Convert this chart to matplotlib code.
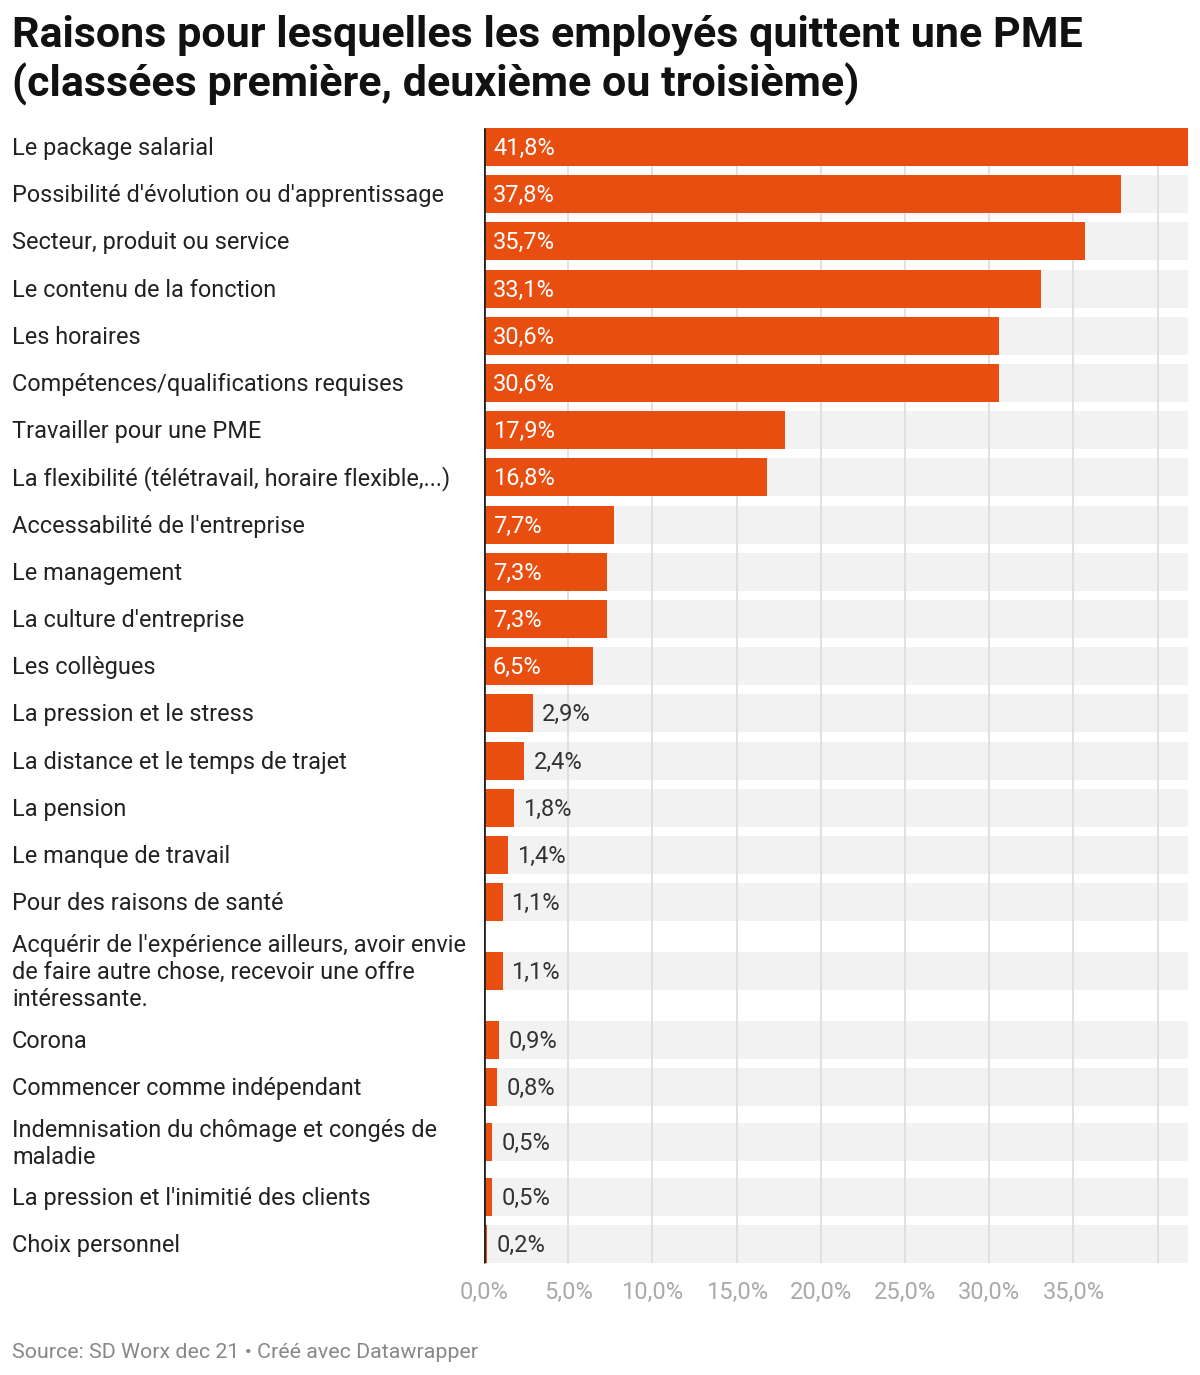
import matplotlib
matplotlib.use('Agg')
import matplotlib.pyplot as plt
import numpy as np

plt.rcParams['font.family'] = ['Roboto', 'DejaVu Sans']

# données
labels = [
    "Le package salarial",
    "Possibilité d'évolution ou d'apprentissage",
    "Secteur, produit ou service",
    "Le contenu de la fonction",
    "Les horaires",
    "Compétences/qualifications requises",
    "Travailler pour une PME",
    "La flexibilité (télétravail, horaire flexible,...)",
    "Accessabilité de l'entreprise",
    "Le management",
    "La culture d'entreprise",
    "Les collègues",
    "La pression et le stress",
    "La distance et le temps de trajet",
    "La pension",
    "Le manque de travail",
    "Pour des raisons de santé",
    "Acquérir de l'expérience ailleurs, avoir envie\nde faire autre chose, recevoir une offre\nintéressante.",
    "Corona",
    "Commencer comme indépendant",
    "Indemnisation du chômage et congés de\nmaladie",
    "La pression et l'inimitié des clients",
    "Choix personnel",
]
values = [41.8, 37.8, 35.7, 33.1, 30.6, 30.6, 17.9, 16.8, 7.7, 7.3, 7.3, 6.5,
          2.9, 2.4, 1.8, 1.4, 1.1, 1.1, 0.9, 0.8, 0.5, 0.5, 0.2]
ticks = [0, 5, 10, 15, 20, 25, 30, 35]

orange = '#e84e10'
W, H = 1200, 1375

fig = plt.figure(figsize=(W / 100, H / 100), dpi=100)

# hauteur de chaque ligne (en px) selon le nombre de lignes du libellé
row_h = {1: 47.2, 2: 62.4, 3: 90.8}
heights = np.array([row_h[l.count('\n') + 1] for l in labels])
centers = np.cumsum(heights) - heights / 2
total = heights.sum()
bar_h = 38

top_px = 123.4
ax = fig.add_axes([484 / W, 1 - (top_px + total) / H, (1188 - 484) / W, total / H])
ax.set_xlim(0, max(values))
ax.set_ylim(total, 0)
ax.axis('off')

# fond gris
ax.barh(centers, [max(values)] * len(values), height=bar_h, color='#f2f2f2', zorder=1)
# grille
y0 = centers[0] - bar_h / 2
y1 = centers[-1] + bar_h / 2
ax.vlines(np.arange(5, 45, 5), y0, y1, color='#dcdcdc', lw=1.2, zorder=2)
# barres
ax.barh(centers, values, height=bar_h, color=orange, zorder=3)
ax.plot([0, 0], [y0, y1], color='#222222', lw=2, zorder=4, solid_capstyle='butt')

px = max(values) / (1188 - 484)  # unités par pixel
for c, v, lab in zip(centers, values, labels):
    txt = f"{v:.1f}%".replace('.', ',')
    if v > 5:
        ax.text(9 * px, c + 1.5, txt, color='white', fontsize=17, va='center', ha='left', zorder=5)
    else:
        ax.text(v + 9 * px, c + 1.5, txt, color='#333333', fontsize=17, va='center', ha='left', zorder=5)
    fig.text(12 / W, 1 - (top_px + c + 1.5) / H, lab, fontsize=16.9, color='#222222',
             va='center', ha='left', linespacing=1.22)

for t in ticks:
    ax.text(t, y1 + 29, f"{t:.1f}%".replace('.', ','), color='#aaaaaa', fontsize=17,
            ha='center', va='center')

fig.text(12 / W, 1 - 36 / H, "Raisons pour lesquelles les employés quittent une PME",
         fontsize=31, fontweight='bold', color='#111111', va='center', ha='left')
fig.text(12 / W, 1 - 84 / H, "(classées première, deuxième ou troisième)",
         fontsize=31, fontweight='bold', color='#111111', va='center', ha='left')
fig.text(12 / W, 1 - 1353 / H, "Source: SD Worx dec 21 • Créé avec Datawrapper",
         fontsize=15.4, color='#888888', va='center', ha='left')

fig.savefig('out.png', dpi=100, facecolor='white')
plt.close(fig)
